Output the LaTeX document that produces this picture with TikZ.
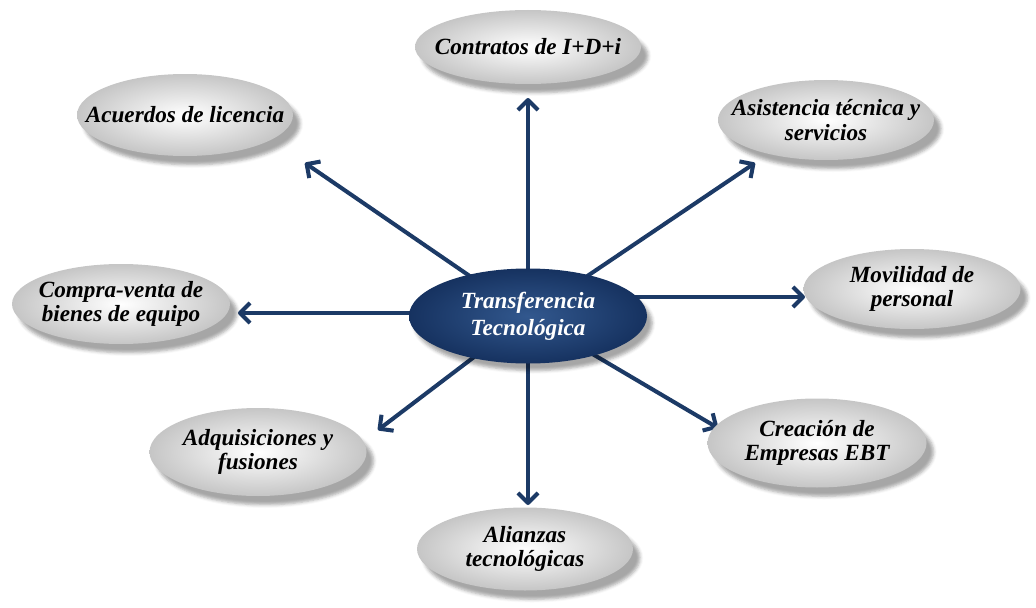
\documentclass[tikz,border=0pt]{standalone}
\usepackage{fontspec}
\setmainfont{Liberation Serif}
\usetikzlibrary{shapes.geometric,arrows.meta,shadows.blur,backgrounds}
\definecolor{navyhi}{RGB}{50,88,142}
\definecolor{navylo}{RGB}{22,50,96}
\definecolor{arrowblue}{RGB}{28,58,102}

\begin{document}
\begin{tikzpicture}[
  bub/.style={ellipse,inner sep=0pt,inner color=white,outer color=gray!45,
    blur shadow={shadow xshift=4pt,shadow yshift=-5pt,shadow opacity=35}},
  hub/.style={ellipse,inner sep=0pt,inner color=navyhi,outer color=navylo,
    blur shadow={shadow xshift=3pt,shadow yshift=-4pt,shadow opacity=35}},
  txt/.style={align=center,font=\fontsize{13.2}{14}\selectfont\bfseries\itshape},
  arr/.style={draw=arrowblue,line width=2.3pt,
    -{Straight Barb[length=2mm,width=4mm,line join=round]}}
]
\useasboundingbox (0,0) rectangle (20.72,12.14);
\node[bub,minimum width=4.52cm,minimum height=1.48cm] (ct) at (10.56,11.20) {};
\node[txt] (ct-t) at (ct) {Contratos de I+D+i};
\node[bub,minimum width=4.32cm,minimum height=1.64cm] (ac) at (3.70,9.84) {};
\node[txt] (ac-t) at (ac) {Acuerdos de licencia};
\node[bub,minimum width=4.32cm,minimum height=1.60cm] (as) at (16.52,9.74) {};
\node[txt] (as-t) at (as) {Asistencia técnica y\\servicios};
\node[bub,minimum width=4.36cm,minimum height=1.60cm] (cv) at (2.42,6.06) {};
\node[txt] (cv-t) at (cv) {Compra-venta de\\bienes de equipo};
\node[bub,minimum width=4.34cm,minimum height=1.60cm] (mv) at (18.24,6.36) {};
\node[txt] (mv-t) at (mv) {Movilidad de\\personal};
\node[bub,minimum width=4.34cm,minimum height=1.76cm] (ad) at (5.16,3.10) {};
\node[txt] (ad-t) at (ad) {Adquisiciones y\\fusiones};
\node[bub,minimum width=4.38cm,minimum height=1.78cm] (cr) at (16.34,3.28) {};
\node[txt] (cr-t) at (cr) {Creación de\\Empresas EBT};
\node[bub,minimum width=4.32cm,minimum height=1.66cm] (al) at (10.50,1.16) {};
\node[txt] (al-t) at (al) {Alianzas\\tecnológicas};
\node[hub,minimum width=4.76cm,minimum height=1.90cm] (tt) at (10.56,5.82) {};
\node[txt,text=white,font=\fontsize{13.2}{15.5}\selectfont\bfseries\itshape] (tt-t) at (tt) {Transferencia\\Tecnológica};
\coordinate (ct-tip) at (10.56,10.18);
\coordinate (ac-tip) at (6.10,8.88);
\coordinate (as-tip) at (15.10,8.88);
\coordinate (cv-tip) at (4.76,5.88);
\coordinate (mv-tip) at (16.10,6.20);
\coordinate (ad-tip) at (7.56,3.54);
\coordinate (cr-tip) at (14.36,3.58);
\coordinate (al-tip) at (10.56,2.04);
\begin{pgfonlayer}{background}
\draw[arr] (tt.center) -- (ct-tip);
\draw[arr] (tt.center) -- (ac-tip);
\draw[arr] (tt.center) -- (as-tip);
\draw[arr] (tt.center |- cv-tip) -- (cv-tip);
\draw[arr] (tt.center |- mv-tip) -- (mv-tip);
\draw[arr] (tt.center) -- (ad-tip);
\draw[arr] (tt.center) -- (cr-tip);
\draw[arr] (tt.center) -- (al-tip);
\end{pgfonlayer}
\end{tikzpicture}
\end{document}
